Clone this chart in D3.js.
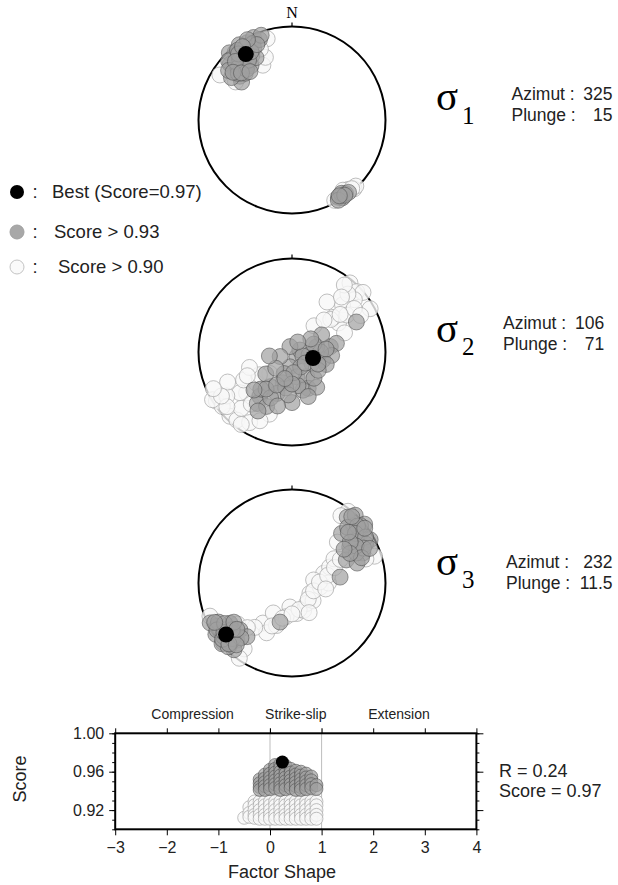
<!DOCTYPE html>
<html><head><meta charset="utf-8">
<script src="https://cdn.jsdelivr.net/npm/d3@7"></script>
<style>body{margin:0;background:#fff}svg{display:block}</style>
</head><body>
<svg id="chart" width="618" height="885"></svg>
<script>
// ---- Best stress tensor ----
const axisNames = ["1", "2", "3"];
const bestAzimuth = [325, 106, 232];
const bestPlunge = [15, 71, 11.5];
const bestScore = 0.97;
const bestRatio = 0.24;

// ---- Axis orientations of the other solutions: [azimuth, plunge] ----
// "good" = score > 0.93, "fair" = score > 0.90
const sigma1Good = [[330,5],[335,3],[320,6],[327,10],[318,12],[333,9],[322,18],[312,18],[316,24],[310,28],[307,33],[315,30],[320,25],[328,20],[332,14],[338,8],[325,2],[317,2],[340,4],[312,12],[305,22],[323,28],[313,8],[330,24],[308,15],
  [322,6],[326,14],[319,16],[314,21],[311,25],[318,28],[324,22],[329,16],[335,12],[331,2],[321,10],[316,14],[309,20],[313,27],[319,32],[326,6],
  [147,1],[144,3],[149,4],[146,6],[142,2],[150,1],[145,2],[148,5]];
const sigma1Fair = [[332,34],[337,28],[343,10],[302,10],[336,18],[304,28],[138,1],[141,5],[152,3],[136,2],[144,8],[139,3]];

const sigma2Good = [[135,84],[76,83],[188,77],[169,68],[149,65],[156,55],[196,62],[212,54],[200,51],[216,41],[214,34],[205,36],[104,62],[82,56],[78,68],[79,50],[339,85],[249,79],[164,55],[145,52],[65,25],[120,70],[170,60],[190,58],[230,60],[100,75],[60,60],[180,45],[220,47],[210,28],[95,55],
  [110,80],[150,75],[200,70],[175,72],[225,70],[140,60],[160,48],[185,52],[205,45],[195,40],[215,50],[225,42],[130,75],[90,65],[70,70],[85,60],[110,58],[125,62],[180,62],[205,58],[195,66],[115,65],[55,70],[30,80],[260,70]];
const sigma2Fair = [[40,4],[47,6],[50,1],[61,5],[50,14],[47,27],[58,41],[50,42],[56,30],[44,15],[38,10],[55,20],[50,45],
  [237,4],[224,5],[219,7],[232,6],[228,35],[232,30],[229,48],[211,13],[226,63],[239,1],[236,17],[245,25],[222,20],[215,6],[200,30],[240,40],
  [235,55],[250,50],[70,40],[40,60],[45,50],[35,35],[242,45],[218,30],[205,20],[230,10],[52,35],[62,18],[42,22],[238,12],[245,8]];

const sigma3Good = [[240,8],[236,2],[229,3],[224,16],[228,26],[237,22],[244,3],[229,1],[220,26],[221,6],[232,8],[226,10],[235,14],[242,12],[230,18],[225,4],
  [238,6],[231,5],[234,11],[227,14],[223,21],[232,20],[239,17],[243,8],[226,7],[222,12],[236,26],[230,24],
  [197,54],[83,47],
  [47,11],[54,11],[61,5],[40,9],[43,1],[58,28],[67,19],[67,37],[51,0],[45,26],[73,28],[50,5],[56,18],[62,12],[45,17],[65,25],
  [49,8],[52,15],[58,8],[64,16],[60,22],[55,25],[48,20],[42,5],[53,3],[70,22],[63,31],[57,34],[66,10]];
const sigma3Fair = [[248,6],[216,14],[233,28],[215,2],
  [216,46],[171,63],[157,64],[120,72],[98,65],[73,61],[67,54],[144,68],[185,69],[212,59],[207,40],[82,71],[200,50],[130,66],[90,58],[190,60],[60,47],
  [205,48],[195,58],[165,66],[135,70],[110,70],[88,66],[78,58],[70,50],[220,38],[225,33],[64,42],[100,60],[150,60],[180,63],
  [38,3],[36,12],[72,8],[48,35],[72,18]];

const sigmaGood = [sigma1Good, sigma2Good, sigma3Good];
const sigmaFair = [sigma1Fair, sigma2Fair, sigma3Fair];

// ---- Shape factor vs score: [R, score] ----
const shapeGood = [
  [-0.2,0.952],[-0.2,0.948],[-0.2,0.944],[-0.2,0.941],
  [-0.1,0.957],[-0.1,0.953],[-0.1,0.949],[-0.1,0.945],[-0.1,0.941],
  [0.0,0.962],[0.0,0.958],[0.0,0.954],[0.0,0.950],[0.0,0.946],[0.0,0.942],
  [0.1,0.967],[0.1,0.963],[0.1,0.959],[0.1,0.955],[0.1,0.951],[0.1,0.947],[0.1,0.943],
  [0.2,0.968],[0.2,0.964],[0.2,0.960],[0.2,0.956],[0.2,0.952],[0.2,0.948],[0.2,0.944],[0.2,0.941],
  [0.3,0.966],[0.3,0.962],[0.3,0.958],[0.3,0.954],[0.3,0.950],[0.3,0.946],[0.3,0.942],
  [0.4,0.963],[0.4,0.959],[0.4,0.955],[0.4,0.951],[0.4,0.947],[0.4,0.943],
  [0.5,0.961],[0.5,0.957],[0.5,0.953],[0.5,0.949],[0.5,0.945],[0.5,0.941],
  [0.6,0.960],[0.6,0.956],[0.6,0.952],[0.6,0.948],[0.6,0.944],[0.6,0.941],
  [0.7,0.958],[0.7,0.954],[0.7,0.950],[0.7,0.946],[0.7,0.942],
  [0.8,0.955],[0.8,0.951],[0.8,0.947],[0.8,0.943],
  [0.9,0.946],[0.9,0.942]];
const shapeFair = [
  [-0.5,0.912],[-0.4,0.923],[-0.4,0.917],[-0.4,0.913],
  [-0.3,0.929],[-0.3,0.925],[-0.3,0.920],[-0.3,0.915],[-0.3,0.912],
  [-0.2,0.929],[-0.2,0.925],[-0.2,0.920],[-0.2,0.915],[-0.2,0.911],
  [-0.1,0.929],[-0.1,0.925],[-0.1,0.920],[-0.1,0.915],[-0.1,0.911],
  [0.0,0.929],[0.0,0.925],[0.0,0.920],[0.0,0.915],[0.0,0.911],
  [0.1,0.929],[0.1,0.925],[0.1,0.920],[0.1,0.915],[0.1,0.911],
  [0.2,0.929],[0.2,0.925],[0.2,0.920],[0.2,0.915],[0.2,0.911],
  [0.3,0.929],[0.3,0.925],[0.3,0.920],[0.3,0.915],[0.3,0.911],
  [0.4,0.929],[0.4,0.925],[0.4,0.920],[0.4,0.915],[0.4,0.911],
  [0.5,0.929],[0.5,0.925],[0.5,0.920],[0.5,0.915],[0.5,0.911],
  [0.6,0.929],[0.6,0.925],[0.6,0.920],[0.6,0.915],[0.6,0.911],
  [0.7,0.929],[0.7,0.925],[0.7,0.920],[0.7,0.915],[0.7,0.911],
  [0.8,0.929],[0.8,0.925],[0.8,0.920],[0.8,0.915],[0.8,0.911],
  [0.9,0.929],[0.9,0.925],[0.9,0.920],[0.9,0.915],[0.9,0.911]];

const shapeTicks = [-3, -2, -1, 0, 1, 2, 3, 4];
const scoreTicks = [0.92, 0.96, 1.00];
const regimeNames = ["Compression", "Strike-slip", "Extension"];
const regimeCenters = [-1.5, 0.5, 2.5];
const legendLabels = ["Best (Score=0.97)", "Score > 0.93", "Score > 0.90"];

// ---- drawing ----
const svg = d3.select("#chart");
const SANS = "'Liberation Sans', Arial, Helvetica, sans-serif";
const SERIF = "'Liberation Serif', 'Times New Roman', serif";

const goodStyle = { fill: "#a0a0a0", fo: 0.7, stroke: "#4a4a4a", so: 0.55 };
const fairStyle = { fill: "#f7f7f7", fo: 0.8, stroke: "#aaaaaa", so: 0.75 };

function dots(g, data, px, py, r, st) {
  g.selectAll(null).data(data).enter().append("circle")
    .attr("cx", px).attr("cy", py).attr("r", r)
    .attr("fill", st.fill).attr("fill-opacity", st.fo)
    .attr("stroke", st.stroke).attr("stroke-opacity", st.so).attr("stroke-width", 1);
}

// Lower-hemisphere equal-area (Schmidt) nets
const netCx = 292, netR = 93.5, netCy = [120, 352, 583];
const unit = d3.scaleLinear().domain([0, 1]).range([0, netR]);
const rad = d => d * Math.PI / 180;
const rho = pl => Math.SQRT2 * Math.sin(rad((90 - pl) / 2));
const netX = d => netCx + unit(rho(d[1]) * Math.sin(rad(d[0])));

axisNames.forEach((name, i) => {
  const cy = netCy[i];
  const netY = d => cy - unit(rho(d[1]) * Math.cos(rad(d[0])));
  const g = svg.append("g");
  g.append("circle").attr("cx", netCx).attr("cy", cy).attr("r", netR)
    .attr("fill", "none").attr("stroke", "#000").attr("stroke-width", 2);
  g.append("line").attr("x1", netCx).attr("x2", netCx)
    .attr("y1", cy - netR).attr("y2", cy - netR - 4)
    .attr("stroke", "#000").attr("stroke-width", 1.2);
  dots(g, sigmaFair[i], netX, netY, 8, fairStyle);
  dots(g, sigmaGood[i], netX, netY, 8, goodStyle);
  const best = [bestAzimuth[i], bestPlunge[i]];
  g.append("circle").attr("cx", netX(best)).attr("cy", netY(best)).attr("r", 8).attr("fill", "#000");
});

svg.append("text").attr("x", netCx).attr("y", 18).attr("text-anchor", "middle")
  .attr("font-family", SERIF).attr("font-size", 16).text("N");

// Sigma labels and orientations
const sigmaBase = [110, 342, 575];
const subBase = [124, 355, 588];
const infoLeft = [511.5, 503, 506];
const infoRight = [612.5, 604.3, 612.5];
const infoBase = [100, 329, 568];
axisNames.forEach((name, i) => {
  svg.append("text").attr("x", 436).attr("y", sigmaBase[i])
    .attr("font-family", SERIF).attr("font-size", 41).text("\u03C3");
  svg.append("text").attr("x", 462).attr("y", subBase[i])
    .attr("font-family", SERIF).attr("font-size", 25).text(name);
  const t = svg.append("g").attr("font-family", SANS).attr("font-size", 17.5).attr("fill", "#222");
  t.append("text").attr("x", infoLeft[i]).attr("y", infoBase[i]).text("Azimut :");
  t.append("text").attr("x", infoLeft[i]).attr("y", infoBase[i] + 21).text("Plunge :");
  t.append("text").attr("x", infoRight[i]).attr("y", infoBase[i]).attr("text-anchor", "end").text(bestAzimuth[i]);
  t.append("text").attr("x", Math.min(infoRight[i], 617)).attr("y", infoBase[i] + 21)
    .attr("text-anchor", "end").text(bestPlunge[i]);
});

// Legend
const legY = [192, 232, 267];
const legTextX = [52, 54, 58];
const legStyles = [{ fill: "#000", fo: 1, stroke: "#000", so: 0 }, { fill: "#a8a8a8", fo: 1, stroke: "#a0a0a0", so: 1 }, { fill: "#fafafa", fo: 1, stroke: "#c4c4c4", so: 1 }];
legendLabels.forEach((lab, i) => {
  const g = svg.append("g");
  dots(g, [0], () => 17, () => legY[i], 7, legStyles[i]);
  g.append("text").attr("x", 35).attr("y", legY[i] + 5.5).attr("text-anchor", "middle")
    .attr("font-family", SANS).attr("font-size", 18.5).attr("fill", "#222").text(":");
  g.append("text").attr("x", legTextX[i]).attr("y", legY[i] + 5.5)
    .attr("font-family", SANS).attr("font-size", 18.5).attr("fill", "#222").text(lab);
});

// Shape factor panel
const x = d3.scaleLinear().domain([-3, 4]).range([115.2, 476.4]);
const y = d3.scaleLinear().domain([0.90, 1.00]).range([829.3, 733.3]);
const panel = svg.append("g");
const minor = d3.range(0.90, 1.0001, 0.01);

[0, 1].forEach(v => panel.append("line").attr("x1", x(v)).attr("x2", x(v))
  .attr("y1", y(1.0) - 5).attr("y2", y(0.90)).attr("stroke", "#bdbdbd").attr("stroke-width", 1));

dots(panel, shapeFair, d => x(d[0]), d => y(d[1]), 6.5, fairStyle);
dots(panel, shapeGood, d => x(d[0]), d => y(d[1]), 6.5, goodStyle);
panel.append("circle").attr("cx", x(bestRatio)).attr("cy", y(bestScore)).attr("r", 6.5).attr("fill", "#000");

function styleAxis(g, size) {
  g.select(".domain").remove();
  g.selectAll("line").attr("stroke", "#000").attr("stroke-width", 1);
  g.selectAll("text").attr("font-family", SANS).attr("font-size", size).attr("fill", "#222");
}
panel.append("g").attr("transform", `translate(0,${y(0.90)})`)
  .call(d3.axisBottom(x).tickValues(shapeTicks).tickFormat(d3.format("d")).tickSize(6).tickPadding(6))
  .call(g => styleAxis(g, 16));
panel.append("g").attr("transform", `translate(0,${y(1.0)})`)
  .call(d3.axisTop(x).tickValues(shapeTicks).tickFormat("").tickSize(5))
  .call(g => styleAxis(g, 16));
panel.append("g").attr("transform", `translate(${x(-3)},0)`)
  .call(d3.axisLeft(y).tickValues(minor).tickFormat("").tickSize(3)).call(g => styleAxis(g, 16));
panel.append("g").attr("transform", `translate(${x(-3)},0)`)
  .call(d3.axisLeft(y).tickValues(scoreTicks).tickFormat(d3.format(".2f")).tickSize(6).tickPadding(5))
  .call(g => styleAxis(g, 16));
panel.append("g").attr("transform", `translate(${x(4)},0)`)
  .call(d3.axisRight(y).tickValues(minor).tickFormat("").tickSize(3)).call(g => styleAxis(g, 16));
panel.append("g").attr("transform", `translate(${x(4)},0)`)
  .call(d3.axisRight(y).tickValues(scoreTicks).tickFormat("").tickSize(7)).call(g => styleAxis(g, 16));

panel.append("rect").attr("x", x(-3)).attr("y", y(1.0))
  .attr("width", x(4) - x(-3)).attr("height", y(0.90) - y(1.0))
  .attr("fill", "none").attr("stroke", "#000").attr("stroke-width", 2);

regimeNames.forEach((n, i) => panel.append("text").attr("x", x(regimeCenters[i])).attr("y", 719)
  .attr("text-anchor", "middle").attr("font-family", SANS).attr("font-size", 14).attr("fill", "#222").text(n));

panel.append("text").attr("x", 282).attr("y", 878).attr("text-anchor", "middle")
  .attr("font-family", SANS).attr("font-size", 18).attr("fill", "#222").text("Factor Shape");
panel.append("text").attr("transform", "translate(26,779) rotate(-90)").attr("text-anchor", "middle")
  .attr("font-family", SANS).attr("font-size", 18).attr("fill", "#222").text("Score");

panel.append("text").attr("x", 499).attr("y", 777).attr("font-family", SANS).attr("font-size", 18)
  .attr("fill", "#222").text(`R = ${bestRatio}`);
panel.append("text").attr("x", 499).attr("y", 797).attr("font-family", SANS).attr("font-size", 18)
  .attr("fill", "#222").text(`Score = ${bestScore}`);
</script>
</body></html>
